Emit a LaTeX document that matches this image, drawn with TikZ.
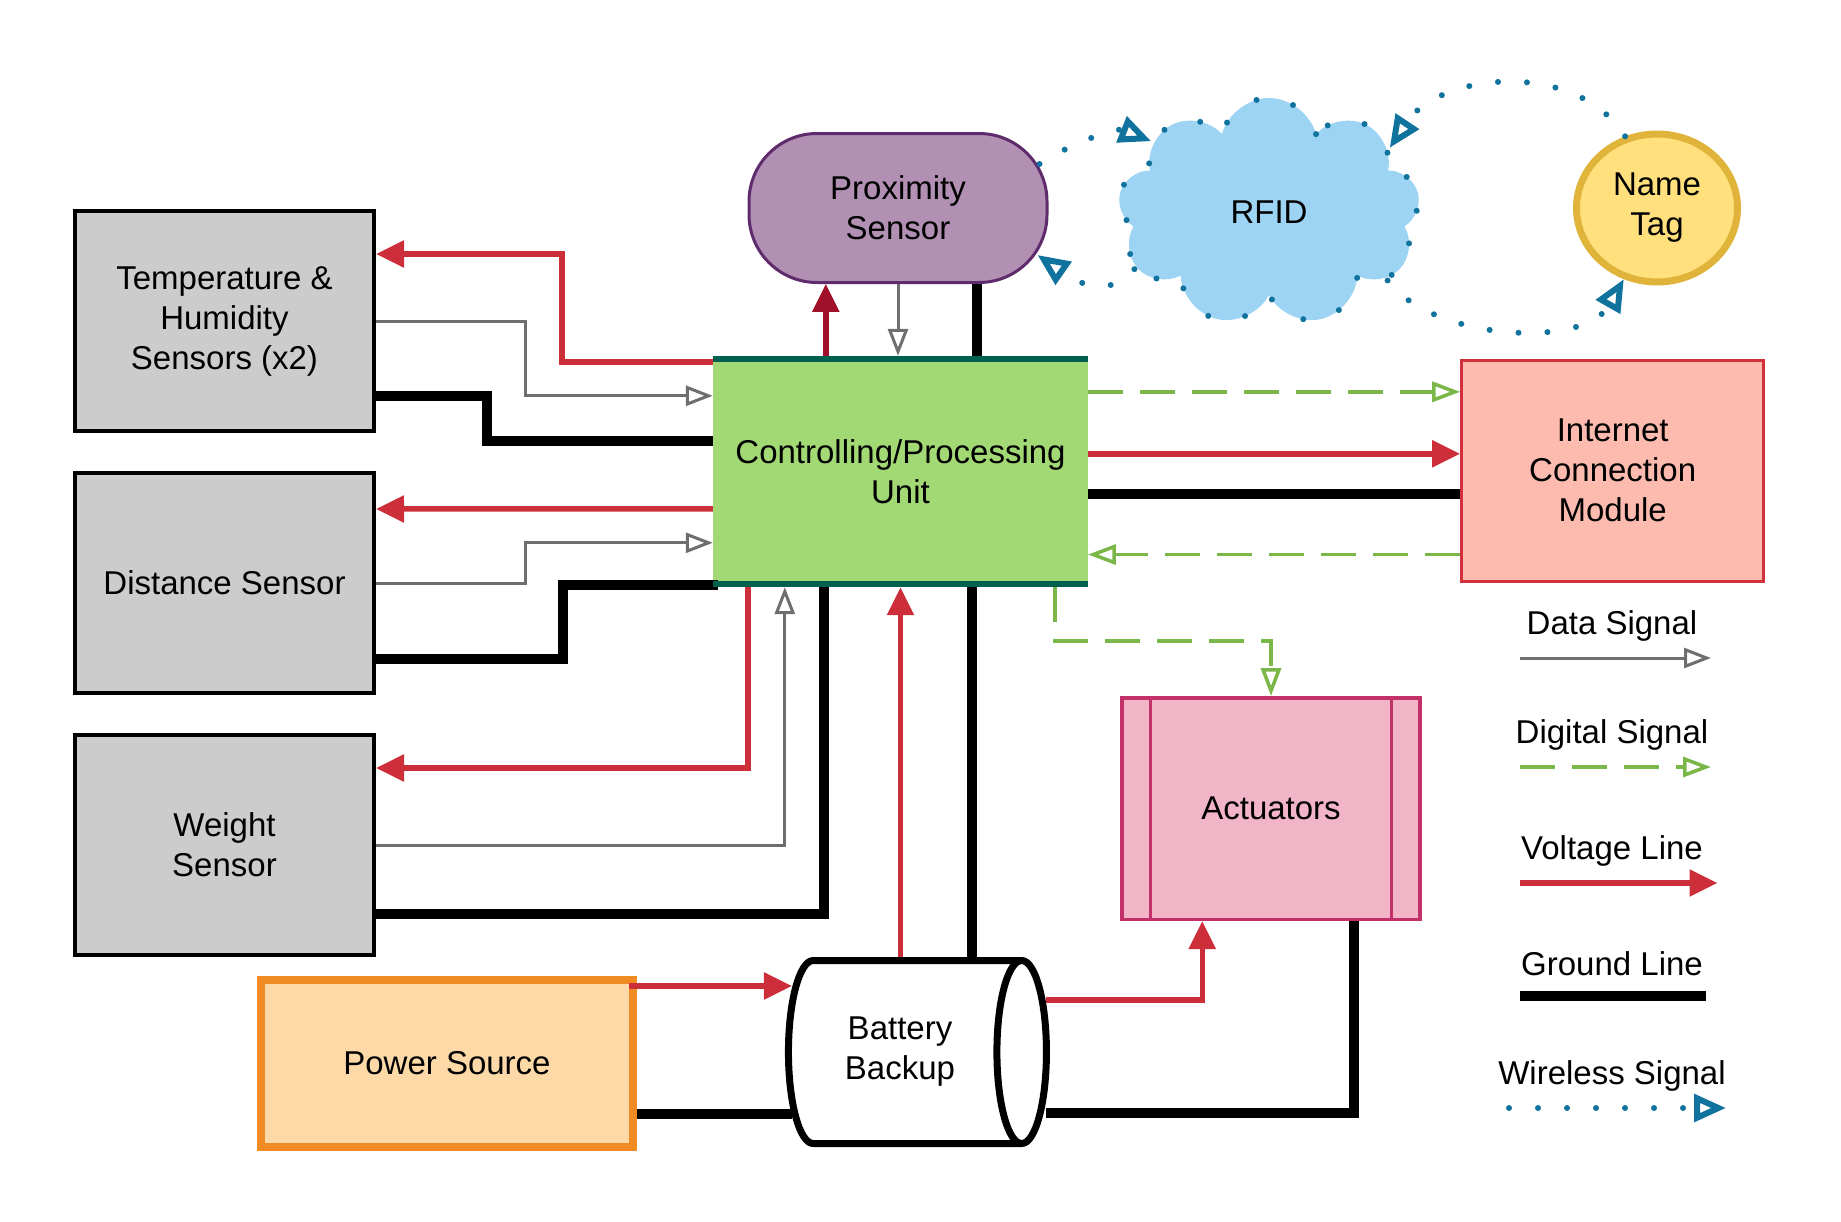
\documentclass[tikz,border=0pt]{standalone}
\usepackage{fontspec}
\setmainfont{Liberation Sans}
\usepackage{tikz}
\usetikzlibrary{arrows.meta,positioning,calc,shapes.geometric,shapes.symbols}
\definecolor{sensorgray}{HTML}{CCCCCC}
\definecolor{cpugreen}{HTML}{A2D975}
\definecolor{cpuedge}{HTML}{00604F}
\definecolor{voltred}{HTML}{CC2E3A}
\definecolor{proxred}{HTML}{A0102A}
\definecolor{datagray}{HTML}{6E6E6E}
\definecolor{diggreen}{HTML}{7AB648}
\definecolor{wireteal}{HTML}{10739E}
\definecolor{proxfill}{HTML}{B190B4}
\definecolor{proxedge}{HTML}{5F2B6C}
\definecolor{rfidblue}{HTML}{9DD3F3}
\definecolor{tagfill}{HTML}{FFE07D}
\definecolor{tagedge}{HTML}{E0B33A}
\definecolor{netfill}{HTML}{FDBAAF}
\definecolor{netedge}{HTML}{D0313C}
\definecolor{actfill}{HTML}{F2B5C8}
\definecolor{actedge}{HTML}{C2316A}
\definecolor{powfill}{HTML}{FED9A8}
\definecolor{powedge}{HTML}{EF8B22}

\begin{document}
\begin{tikzpicture}[
  x=1pt,y=-1pt,
  font=\fontsize{33}{40}\selectfont,
  node distance=38pt,
  sensor/.style={draw=black,line width=4pt,fill=sensorgray,align=center,
                 minimum width=299pt,minimum height=220pt},
  volt/.style={-{Triangle[length=28pt,width=26pt]},line width=5.5pt,voltred},
  data/.style={-{Triangle[open,length=27pt,width=20pt,fill=white]},line width=3pt,datagray},
  dig/.style={-{Triangle[open,length=28pt,width=20pt,fill=white]},line width=3.5pt,diggreen,
              dash pattern=on 35pt off 17pt},
  gnd/.style={line width=10pt,black},
  wire/.style={-{Triangle[open,length=32pt,width=27pt]},line width=6pt,wireteal,
               line cap=round,dash pattern=on 0pt off 29pt},
  legend/.style={align=center}
]
  \useasboundingbox (0,0) rectangle (1841,1221);
  \node[sensor] (temp) at (224.5,321) {Temperature \&\\Humidity\\Sensors (x2)};
  \node[sensor,below=of temp] (dist) {Distance Sensor};
  \node[sensor,below=of dist] (weight) {Weight\\Sensor};
  \node[fill=cpugreen,minimum width=375pt,minimum height=231pt,align=center] (cpu) at (900.5,471.5) {Controlling/Processing\\Unit};
  \node[draw=proxedge,line width=3pt,fill=proxfill,rounded corners=68pt,align=center,
        minimum width=298pt,minimum height=149pt] (prox) at (898,208) {Proximity\\Sensor};
  \node[cloud,cloud puffs=9,aspect=1.35,draw=wireteal,fill=rfidblue,line width=6pt,line cap=round,
        dash pattern=on 0pt off 38pt,minimum width=302pt,minimum height=228pt] (rfid) at (1269,212) {RFID};
  \node[ellipse,draw=tagedge,line width=7pt,fill=tagfill,align=center,inner sep=0pt,
        minimum width=161pt,minimum height=148pt] (tag) at (1657,208) {Name\\Tag};
  \node[draw=netedge,line width=3.5pt,fill=netfill,align=center,
        minimum width=302pt,minimum height=221pt] (net) at (1612.7,470.8) {Internet\\Connection\\Module};
  \node[draw=actedge,line width=3.5pt,fill=actfill,
        minimum width=298pt,minimum height=221.5pt] (act) at (1271,808.5) {Actuators};
  \draw[actedge,line width=3pt] ($(act.north west)+(30,2)$) -- ($(act.south west)+(30,-2)$);
  \draw[actedge,line width=3pt] ($(act.north east)+(-30,2)$) -- ($(act.south east)+(-30,-2)$);
  \node[draw=powedge,line width=8pt,fill=powfill,
        minimum width=372pt,minimum height=167pt] (power) at (447,1063.5) {Power Source};
  \node[cylinder,draw=black,line width=7pt,fill=white,aspect=0.65,align=center,
        minimum width=183pt,minimum height=258pt] (batt) at (900,1052) {Battery\\Backup};

  \draw[volt] ($(cpu.north west)+(0,6)$) -- ++(-151,0) |- ($(temp.north east)+(0,45)$);
  \draw[data] (temp.east) -- ++(149,0) |- ($(cpu.north west)+(0,40)$);
  \draw[gnd] ($(temp.south east)+(0,-37)$) -- ++(111,0) |- ($(cpu.north west)+(0,85)$);
  \draw[volt] ($(cpu.north west)+(0,153)$) -- ($(dist.north east)+(0,38)$);
  \draw[data] (dist.east) -- ++(149,0) |- ($(cpu.north west)+(0,187)$);
  \draw[gnd] ($(dist.south east)+(0,-36)$) -- ++(187,0) |- ($(cpu.south west)+(5,-2)$);
  \draw[volt] ($(cpu.south west)+(35,0)$) |- ($(weight.north east)+(0,35)$);
  \draw[data] (weight.east) -| ($(cpu.south west)+(72,0)$);
  \draw[gnd] ($(weight.south east)+(0,-43)$) -| ($(cpu.south west)+(111,0)$);

  \draw[volt,proxred] ($(cpu.north west)+(113,0)$) -- ++(0,-72);
  \draw[data] (prox.south) -- (prox.south |- cpu.north);
  \draw[gnd] ($(prox.south)+(79,0)$) -- ++(0,72);

  \draw[volt] (cpu.south |- batt.north) -- (cpu.south);
  \coordinate (bk) at ($(cpu.south)+(71.5,0)$);
  \draw[gnd] (bk) -- (bk |- batt.north);
  \coordinate (pv) at ($(power.north east)+(-8,10)$);
  \draw[volt] (pv) -- ($(pv -| batt.west)+(7,0)$);
  \coordinate (pg) at ($(power.south east)+(0,-37)$);
  \draw[gnd] (pg) -- ($(pg -| batt.west)+(7,0)$);
  \draw[volt] ($(batt.east)+(-4,-52)$) -| ($(act.south west)+(82,0)$);
  \draw[gnd] ($(batt.east)+(-4,61)$) -| ($(act.south west)+(234,0)$);

  \draw[dig] ($(cpu.south east)+(-33,0)$) -- ++(0,54) -| (act.north);
  \draw[dig] ($(cpu.north east)+(0,36)$) -- ++(372,0);
  \draw[volt] ($(cpu.north east)+(0,98)$) -- ++(372,0);
  \draw[gnd] ($(cpu.north east)+(0,138)$) -- ++(372,0);
  \draw[dig] ($(net.north west)+(0,196)$) -- ++(-372,0);

  \draw[cpuedge,line width=6pt] ($(cpu.north west)+(0,3)$) -- ($(cpu.north east)+(0,3)$);
  \draw[cpuedge,line width=6pt] ($(cpu.south west)+(0,-3)$) -- ($(cpu.south east)+(0,-3)$);

  \draw[wire] ($(prox.east)+(-9,-44)$) .. controls +(30,-20) and +(-35,-14) .. (rfid.149);
  \draw[wire] (rfid.203) .. controls +(-25,30) and +(40,28) .. ($(prox.east)+(-11,47)$);
  \draw[wire] (tag.114) .. controls +(-50,-78) and +(50,-75) .. (rfid.28);
  \draw[wire] (rfid.-30) .. controls +(45,60) and +(-40,70) .. (tag.245);

  \node[legend] (ldata) at (1612,626) {Data Signal};
  \node[legend] (ldig) at (1612,734.5) {Digital Signal};
  \node[legend] (lvolt) at (1612,851) {Voltage Line};
  \node[legend] (lgnd) at (1612,963.7) {Ground Line};
  \node[legend] (lwire) at (1612,1075.5) {Wireless Signal};
  \draw[data] ($(ldata)+(-92,32)$) -- ++(191,0);
  \draw[dig] ($(ldig)+(-92,32.5)$) -- ++(191,0);
  \draw[volt] ($(lvolt)+(-92,32)$) -- ++(197.5,0);
  \draw[gnd] ($(lgnd)+(-92,32)$) -- ++(186,0);
  \draw[wire] ($(lwire)+(-103,32.5)$) -- ++(217,0);
\end{tikzpicture}
\end{document}
